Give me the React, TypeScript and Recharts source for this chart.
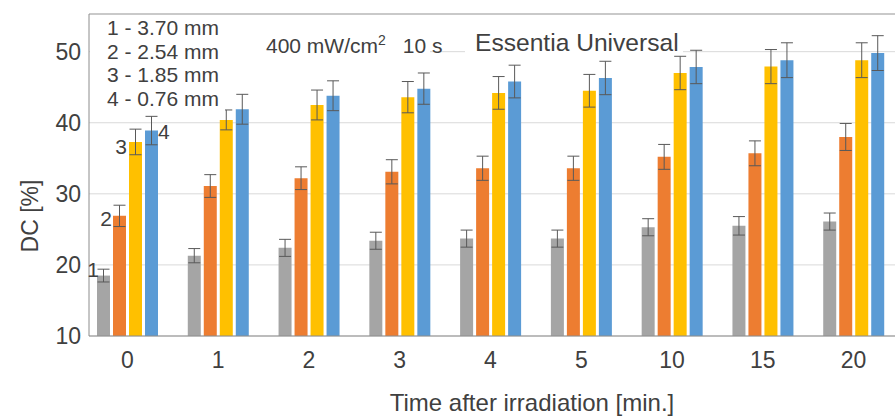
import React from "react"
import {
  BarChart,
  Bar,
  XAxis,
  YAxis,
  CartesianGrid,
  ErrorBar,
  ReferenceLine,
  LabelList,
} from "recharts"

// time after irradiation [min.]
const times = ["0", "1", "2", "3", "4", "5", "10", "15", "20"]

// DC [%] per specimen thickness, with SD
const dc370 = [18.5, 21.3, 22.4, 23.4, 23.7, 23.7, 25.3, 25.5, 26.1]
const dc370Err = [0.9, 1.0, 1.2, 1.2, 1.2, 1.2, 1.2, 1.3, 1.2]
const dc254 = [26.9, 31.1, 32.2, 33.1, 33.6, 33.6, 35.2, 35.7, 38.0]
const dc254Err = [1.5, 1.6, 1.6, 1.7, 1.7, 1.7, 1.75, 1.75, 1.9]
const dc185 = [37.3, 40.4, 42.5, 43.6, 44.2, 44.5, 47.0, 47.9, 48.8]
const dc185Err = [1.8, 1.4, 2.1, 2.2, 2.3, 2.3, 2.35, 2.4, 2.45]
const dc076 = [38.9, 41.9, 43.8, 44.8, 45.8, 46.3, 47.85, 48.8, 49.8]
const dc076Err = [2.0, 2.1, 2.1, 2.2, 2.3, 2.35, 2.35, 2.45, 2.45]

const legendLines = ["1 - 3.70 mm", "2 - 2.54 mm", "3 - 1.85 mm", "4 - 0.76 mm"]
const yTicks = [10, 20, 30, 40, 50]
const Y_MAX = 55.3

const FONT = "'Liberation Sans', Arial, sans-serif"
const TEXT = "#404040"

const data = times.map((t, i) => ({
  time: t,
  dc370: dc370[i],
  dc370Err: dc370Err[i],
  dc254: dc254[i],
  dc254Err: dc254Err[i],
  dc185: dc185[i],
  dc185Err: dc185Err[i],
  dc076: dc076[i],
  dc076Err: dc076Err[i],
}))

// tag = number written next to the first bar of each series
const series = [
  { key: "dc370", color: "#a5a5a5", tag: "1", anchor: "end", dx: 2, dy: -6 },
  { key: "dc254", color: "#ed7d31", tag: "2", anchor: "end", dx: -1, dy: 3 },
  { key: "dc185", color: "#ffc000", tag: "3", anchor: "end", dx: -2, dy: 5 },
  { key: "dc076", color: "#5b9bd5", tag: "4", anchor: "start", dx: 13, dy: 1 },
]

function tagLabel(s: (typeof series)[number]) {
  return (props: any) => {
    if (props.index !== 0) return null
    const vb = props.viewBox || props
    const x = vb.x ?? props.x
    const y = vb.y ?? props.y
    return (
      <text
        x={x + s.dx}
        y={y + s.dy}
        textAnchor={s.anchor}
        dominantBaseline="central"
        fontSize={21}
        fontFamily={FONT}
        fill={TEXT}
      >
        {s.tag}
      </text>
    )
  }
}

function YTitle(props: any) {
  const vb = props.viewBox
  const cx = 30
  const cy = vb.y + vb.height / 2 + 41
  return (
    <text
      x={cx}
      y={cy}
      transform={`rotate(-90, ${cx}, ${cy})`}
      textAnchor="middle"
      dominantBaseline="central"
      fontSize={23}
      fontFamily={FONT}
      fill={TEXT}
    >
      DC [%]
    </text>
  )
}

const boxStyle: React.CSSProperties = {
  position: "absolute",
  background: "#fff",
  fontFamily: FONT,
  color: TEXT,
  whiteSpace: "nowrap",
}

export default function App() {
  return (
    <div
      style={{
        position: "absolute",
        left: 0,
        top: 0,
        width: 895,
        height: 416,
        overflow: "hidden",
        background: "#fff",
      }}
    >
      <BarChart
        width={895}
        height={416}
        data={data}
        margin={{ top: 14, right: 0, bottom: 0, left: 29 }}
        barSize={13}
        barGap={3}
      >
        <CartesianGrid vertical={false} stroke="#d9d9d9" />
        <XAxis
          dataKey="time"
          height={80}
          padding={{ left: -7, right: -4 }}
          tickLine={false}
          tickSize={0}
          tickMargin={16}
          axisLine={{ stroke: "#8c8c8c" }}
          tick={{ fontSize: 23, fontFamily: FONT, fill: TEXT }}
          label={{
            value: "Time after irradiation [min.]",
            position: "insideBottom",
            offset: 5,
            dx: 40,
            fontSize: 24,
            fontFamily: FONT,
            fill: TEXT,
          }}
        />
        <YAxis
          width={60}
          domain={[10, Y_MAX]}
          ticks={yTicks}
          allowDataOverflow
          tickLine={false}
          tickSize={0}
          tickMargin={8}
          axisLine={{ stroke: "#8c8c8c" }}
          tick={{ fontSize: 23, fontFamily: FONT, fill: TEXT }}
          label={<YTitle />}
        />
        <ReferenceLine y={Y_MAX} stroke="#a6a6a6" />
        {series.map((s) => (
          <Bar key={s.key} dataKey={s.key} fill={s.color} isAnimationActive={false}>
            <ErrorBar
              dataKey={s.key + "Err"}
              width={6}
              stroke="#595959"
              strokeWidth={1}
              direction="y"
              isAnimationActive={false}
            />
            <LabelList dataKey={s.key} content={tagLabel(s)} />
          </Bar>
        ))}
      </BarChart>

      <div style={{ ...boxStyle, left: 90, top: 15, width: 135, height: 97, fontSize: 21 }}>
        <div style={{ position: "absolute", left: 17, top: 1, lineHeight: "23.7px" }}>
          {legendLines.map((l) => (
            <div key={l}>{l}</div>
          ))}
        </div>
      </div>
      <div style={{ ...boxStyle, left: 225, top: 30, width: 205, height: 28, fontSize: 21 }}>
        <div style={{ position: "absolute", left: 41, top: 5, lineHeight: "21px" }}>
          400 mW/cm<sup style={{ fontSize: 14, verticalAlign: "8px", lineHeight: 0 }}>2</sup>
          <span style={{ marginLeft: 17 }}>10 s</span>
        </div>
      </div>
      <div style={{ ...boxStyle, left: 465, top: 26, width: 218, height: 28, fontSize: 24.6 }}>
        <div style={{ position: "absolute", left: 10, top: 5, lineHeight: "24px" }}>
          Essentia Universal
        </div>
      </div>
    </div>
  )
}
